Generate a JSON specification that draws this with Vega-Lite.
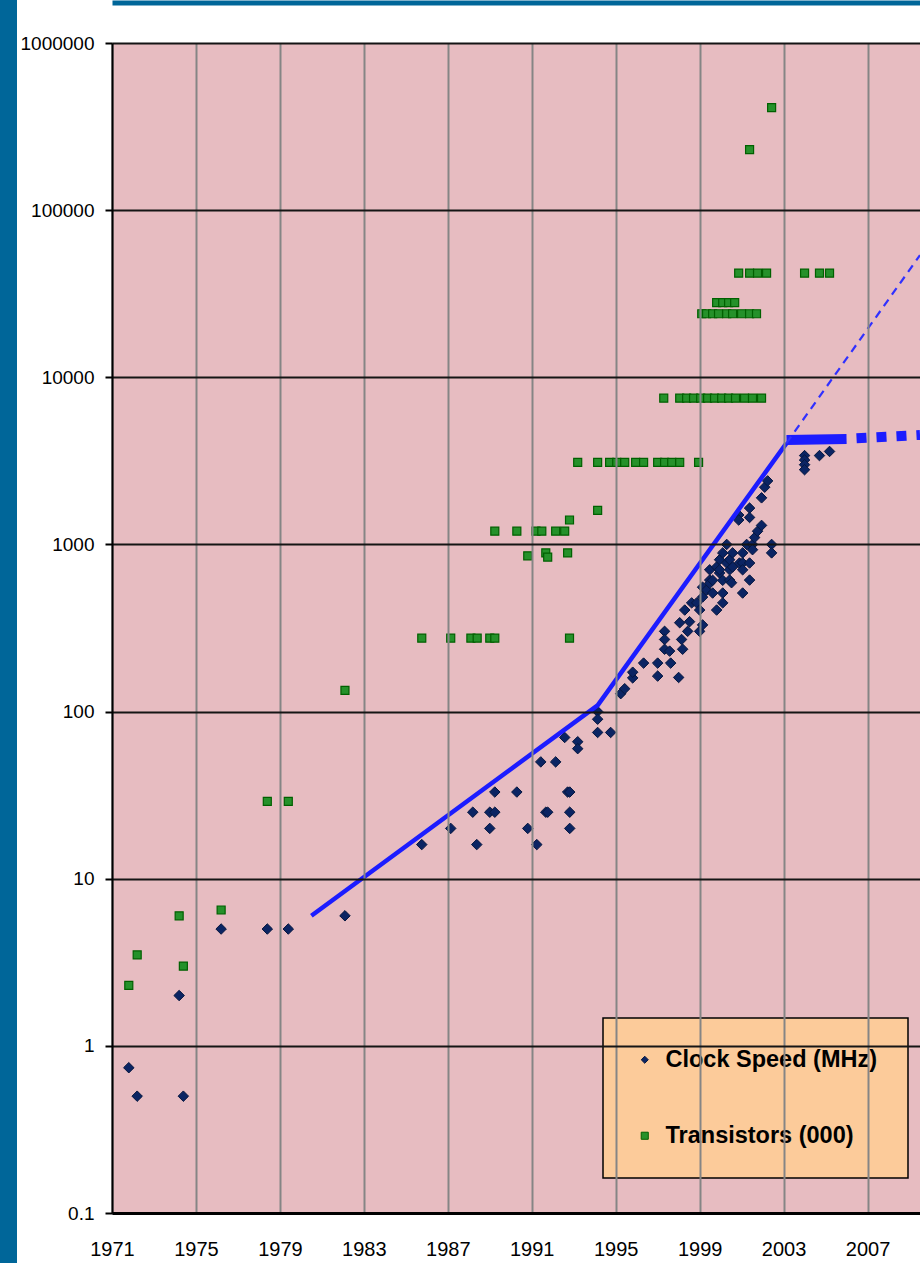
{
  "$schema": "https://vega.github.io/schema/vega-lite/v6.json",
  "width": 808,
  "height": 1170,
  "autosize": "none",
  "padding": {"left": 112, "top": 43, "right": 0, "bottom": 50},
  "background": "#006699",
  "config": {
    "view": {"fill": "#e7bcc1", "stroke": "#ffffff", "strokeWidth": 190},
    "legend": {"strokeWidth": 1.5}
  },
  "datasets": {
    "points": [
      {"series":"Clock Speed (MHz)","year":1971.8,"value":0.74},{"series":"Clock Speed (MHz)","year":1972.2,"value":0.5},{"series":"Clock Speed (MHz)","year":1974.2,"value":2},{"series":"Clock Speed (MHz)","year":1974.4,"value":0.5},{"series":"Clock Speed (MHz)","year":1976.2,"value":5},{"series":"Clock Speed (MHz)","year":1978.4,"value":5},{"series":"Clock Speed (MHz)","year":1979.4,"value":5},{"series":"Clock Speed (MHz)","year":1982.1,"value":6},
      {"series":"Clock Speed (MHz)","year":1985.76,"value":16},{"series":"Clock Speed (MHz)","year":1987.14,"value":20},{"series":"Clock Speed (MHz)","year":1988.19,"value":25},{"series":"Clock Speed (MHz)","year":1988.38,"value":16},{"series":"Clock Speed (MHz)","year":1989.0,"value":20},{"series":"Clock Speed (MHz)","year":1989.0,"value":25},{"series":"Clock Speed (MHz)","year":1989.24,"value":25},{"series":"Clock Speed (MHz)","year":1989.24,"value":33},{"series":"Clock Speed (MHz)","year":1990.29,"value":33},{"series":"Clock Speed (MHz)","year":1990.81,"value":20},{"series":"Clock Speed (MHz)","year":1991.24,"value":16},{"series":"Clock Speed (MHz)","year":1991.43,"value":50},{"series":"Clock Speed (MHz)","year":1991.67,"value":25},{"series":"Clock Speed (MHz)","year":1991.76,"value":25},{"series":"Clock Speed (MHz)","year":1992.14,"value":50},{"series":"Clock Speed (MHz)","year":1992.57,"value":70},{"series":"Clock Speed (MHz)","year":1992.71,"value":33},{"series":"Clock Speed (MHz)","year":1992.81,"value":33},{"series":"Clock Speed (MHz)","year":1992.81,"value":25},{"series":"Clock Speed (MHz)","year":1992.81,"value":20},{"series":"Clock Speed (MHz)","year":1993.19,"value":66},{"series":"Clock Speed (MHz)","year":1993.19,"value":60},
      {"series":"Clock Speed (MHz)","year":1994.14,"value":100},{"series":"Clock Speed (MHz)","year":1994.14,"value":90},{"series":"Clock Speed (MHz)","year":1994.14,"value":75},{"series":"Clock Speed (MHz)","year":1994.76,"value":75},{"series":"Clock Speed (MHz)","year":1995.24,"value":128},{"series":"Clock Speed (MHz)","year":1995.43,"value":137},{"series":"Clock Speed (MHz)","year":1995.81,"value":159},{"series":"Clock Speed (MHz)","year":1995.81,"value":172},{"series":"Clock Speed (MHz)","year":1996.33,"value":195},{"series":"Clock Speed (MHz)","year":1997.0,"value":195},{"series":"Clock Speed (MHz)","year":1997.0,"value":163},{"series":"Clock Speed (MHz)","year":1997.33,"value":302},{"series":"Clock Speed (MHz)","year":1997.33,"value":270},{"series":"Clock Speed (MHz)","year":1997.33,"value":236},{"series":"Clock Speed (MHz)","year":1997.57,"value":230},{"series":"Clock Speed (MHz)","year":1997.62,"value":195},{"series":"Clock Speed (MHz)","year":1998.0,"value":160},{"series":"Clock Speed (MHz)","year":1998.05,"value":340},{"series":"Clock Speed (MHz)","year":1998.14,"value":270},{"series":"Clock Speed (MHz)","year":1998.19,"value":236},{"series":"Clock Speed (MHz)","year":1998.29,"value":405},{"series":"Clock Speed (MHz)","year":1998.43,"value":302},{"series":"Clock Speed (MHz)","year":1998.52,"value":345},{"series":"Clock Speed (MHz)","year":1998.62,"value":447},{"series":"Clock Speed (MHz)","year":1998.86,"value":447},{"series":"Clock Speed (MHz)","year":1999.0,"value":405},{"series":"Clock Speed (MHz)","year":1999.0,"value":302},{"series":"Clock Speed (MHz)","year":1999.14,"value":330},{"series":"Clock Speed (MHz)","year":1999.14,"value":484},{"series":"Clock Speed (MHz)","year":1999.14,"value":555},{"series":"Clock Speed (MHz)","year":1999.33,"value":533},{"series":"Clock Speed (MHz)","year":1999.48,"value":612},{"series":"Clock Speed (MHz)","year":1999.48,"value":585},{"series":"Clock Speed (MHz)","year":1999.48,"value":705},{"series":"Clock Speed (MHz)","year":1999.62,"value":512},{"series":"Clock Speed (MHz)","year":1999.62,"value":610},{"series":"Clock Speed (MHz)","year":1999.81,"value":405},{"series":"Clock Speed (MHz)","year":1999.81,"value":733},{"series":"Clock Speed (MHz)","year":1999.95,"value":675},{"series":"Clock Speed (MHz)","year":1999.95,"value":810},{"series":"Clock Speed (MHz)","year":1999.95,"value":705},{"series":"Clock Speed (MHz)","year":2000.1,"value":512},{"series":"Clock Speed (MHz)","year":2000.1,"value":447},{"series":"Clock Speed (MHz)","year":2000.1,"value":890},{"series":"Clock Speed (MHz)","year":2000.1,"value":610},{"series":"Clock Speed (MHz)","year":2000.29,"value":774},{"series":"Clock Speed (MHz)","year":2000.29,"value":1000},{"series":"Clock Speed (MHz)","year":2000.43,"value":612},{"series":"Clock Speed (MHz)","year":2000.43,"value":810},{"series":"Clock Speed (MHz)","year":2000.43,"value":705},{"series":"Clock Speed (MHz)","year":2000.52,"value":590},{"series":"Clock Speed (MHz)","year":2000.57,"value":733},{"series":"Clock Speed (MHz)","year":2000.57,"value":890},{"series":"Clock Speed (MHz)","year":2000.9,"value":774},{"series":"Clock Speed (MHz)","year":2001.05,"value":512},{"series":"Clock Speed (MHz)","year":2001.05,"value":890},{"series":"Clock Speed (MHz)","year":2001.05,"value":775},{"series":"Clock Speed (MHz)","year":2001.05,"value":705},{"series":"Clock Speed (MHz)","year":2001.24,"value":1000},{"series":"Clock Speed (MHz)","year":2001.38,"value":612},{"series":"Clock Speed (MHz)","year":2001.38,"value":774},{"series":"Clock Speed (MHz)","year":2001.52,"value":1000},{"series":"Clock Speed (MHz)","year":2001.52,"value":930},{"series":"Clock Speed (MHz)","year":2000.86,"value":1500},{"series":"Clock Speed (MHz)","year":2000.86,"value":1400},{"series":"Clock Speed (MHz)","year":2001.38,"value":1650},{"series":"Clock Speed (MHz)","year":2001.38,"value":1450},{"series":"Clock Speed (MHz)","year":2001.62,"value":1100},{"series":"Clock Speed (MHz)","year":2001.76,"value":1200},{"series":"Clock Speed (MHz)","year":2001.95,"value":1300},{"series":"Clock Speed (MHz)","year":2001.95,"value":1900},{"series":"Clock Speed (MHz)","year":2002.1,"value":2200},{"series":"Clock Speed (MHz)","year":2002.24,"value":2400},{"series":"Clock Speed (MHz)","year":2002.43,"value":1000},{"series":"Clock Speed (MHz)","year":2002.43,"value":890},{"series":"Clock Speed (MHz)","year":2004.0,"value":3400},{"series":"Clock Speed (MHz)","year":2004.0,"value":3200},{"series":"Clock Speed (MHz)","year":2004.0,"value":3000},{"series":"Clock Speed (MHz)","year":2004.0,"value":2800},{"series":"Clock Speed (MHz)","year":2004.71,"value":3400},{"series":"Clock Speed (MHz)","year":2005.19,"value":3600},
      {"series":"Transistors (000)","year":1971.8,"value":2.3},{"series":"Transistors (000)","year":1972.2,"value":3.5},{"series":"Transistors (000)","year":1974.2,"value":6},{"series":"Transistors (000)","year":1974.4,"value":3},{"series":"Transistors (000)","year":1976.2,"value":6.5},{"series":"Transistors (000)","year":1978.4,"value":29},{"series":"Transistors (000)","year":1979.4,"value":29},{"series":"Transistors (000)","year":1982.1,"value":134},
      {"series":"Transistors (000)","year":1985.76,"value":275},{"series":"Transistors (000)","year":1987.14,"value":275},{"series":"Transistors (000)","year":1988.1,"value":275},{"series":"Transistors (000)","year":1988.4,"value":275},{"series":"Transistors (000)","year":1989.0,"value":275},{"series":"Transistors (000)","year":1989.24,"value":275},{"series":"Transistors (000)","year":1992.8,"value":275},
      {"series":"Transistors (000)","year":1989.24,"value":1200},{"series":"Transistors (000)","year":1990.29,"value":1200},{"series":"Transistors (000)","year":1991.2,"value":1200},{"series":"Transistors (000)","year":1991.48,"value":1200},{"series":"Transistors (000)","year":1992.14,"value":1200},{"series":"Transistors (000)","year":1992.57,"value":1200},{"series":"Transistors (000)","year":1992.8,"value":1400},{"series":"Transistors (000)","year":1994.14,"value":1600},
      {"series":"Transistors (000)","year":1990.81,"value":855},{"series":"Transistors (000)","year":1991.67,"value":890},{"series":"Transistors (000)","year":1991.76,"value":840},{"series":"Transistors (000)","year":1992.71,"value":890},
      {"series":"Transistors (000)","year":1993.19,"value":3100},{"series":"Transistors (000)","year":1994.14,"value":3100},{"series":"Transistors (000)","year":1994.71,"value":3100},{"series":"Transistors (000)","year":1995.05,"value":3100},{"series":"Transistors (000)","year":1995.43,"value":3100},{"series":"Transistors (000)","year":1995.95,"value":3100},{"series":"Transistors (000)","year":1996.33,"value":3100},{"series":"Transistors (000)","year":1997.0,"value":3100},{"series":"Transistors (000)","year":1997.33,"value":3100},{"series":"Transistors (000)","year":1997.67,"value":3100},{"series":"Transistors (000)","year":1998.05,"value":3100},{"series":"Transistors (000)","year":1998.95,"value":3100},
      {"series":"Transistors (000)","year":1997.29,"value":7500},{"series":"Transistors (000)","year":1998.05,"value":7500},{"series":"Transistors (000)","year":1998.38,"value":7500},{"series":"Transistors (000)","year":1998.71,"value":7500},{"series":"Transistors (000)","year":1999.05,"value":7500},{"series":"Transistors (000)","year":1999.38,"value":7500},{"series":"Transistors (000)","year":1999.71,"value":7500},{"series":"Transistors (000)","year":2000.05,"value":7500},{"series":"Transistors (000)","year":2000.38,"value":7500},{"series":"Transistors (000)","year":2000.71,"value":7500},{"series":"Transistors (000)","year":2001.14,"value":7500},{"series":"Transistors (000)","year":2001.52,"value":7500},{"series":"Transistors (000)","year":2001.95,"value":7500},
      {"series":"Transistors (000)","year":1999.1,"value":24000},{"series":"Transistors (000)","year":1999.33,"value":24000},{"series":"Transistors (000)","year":1999.62,"value":24000},{"series":"Transistors (000)","year":1999.9,"value":24000},{"series":"Transistors (000)","year":2000.29,"value":24000},{"series":"Transistors (000)","year":2000.57,"value":24000},{"series":"Transistors (000)","year":2001.0,"value":24000},{"series":"Transistors (000)","year":2001.38,"value":24000},{"series":"Transistors (000)","year":2001.71,"value":24000},
      {"series":"Transistors (000)","year":1999.81,"value":28000},{"series":"Transistors (000)","year":2000.1,"value":28000},{"series":"Transistors (000)","year":2000.38,"value":28000},{"series":"Transistors (000)","year":2000.67,"value":28000},
      {"series":"Transistors (000)","year":2000.86,"value":42000},{"series":"Transistors (000)","year":2001.38,"value":42000},{"series":"Transistors (000)","year":2001.76,"value":42000},{"series":"Transistors (000)","year":2002.19,"value":42000},{"series":"Transistors (000)","year":2004.0,"value":42000},{"series":"Transistors (000)","year":2004.71,"value":42000},{"series":"Transistors (000)","year":2005.19,"value":42000},
      {"series":"Transistors (000)","year":2001.38,"value":230000},{"series":"Transistors (000)","year":2002.43,"value":410000}
    ],
    "trend": [{"year":1980.5,"value":6},{"year":1994.14,"value":109},{"year":2003.14,"value":4040}],
    "flat": [{"year":2003.14,"value":4220},{"year":2006.0,"value":4280}],
    "flatdash": [{"year":2006.0,"value":4280},{"year":2009.5,"value":4520}],
    "proj": [{"year":2003.14,"value":4040},{"year":2009.5,"value":53800}]
  },
  "layer": [
    {
      "data": {"values": [{}]},
      "mark": {"type": "rect", "fill": "#e7bcc1"},
      "encoding": {}
    },
    {
      "data": {"name": "points"},
      "transform": [{"filter": "datum.series === 'Clock Speed (MHz)'"}],
      "mark": {"type": "point", "filled": true, "size": 110, "strokeWidth": 1, "opacity": 1},
      "encoding": {
        "x": {"field": "year", "type": "quantitative", "scale": {"domain": [1971, 2009.5], "nice": false, "zero": false},
          "axis": {"orient": "bottom", "values": [1971,1975,1979,1983,1987,1991,1995,1999,2003,2007], "format": "d", "title": null,
            "grid": true, "gridColor": "#858585", "gridWidth": 2, "gridOpacity": 1, "domainColor": "#000000", "domainWidth": 3,
            "tickSize": 0, "labelPadding": 26, "labelFlush": false, "labelOverlap": false, "labelFont": "Liberation Sans", "labelFontSize": 20, "labelColor": "#000000", "zindex": 1}},
        "y": {"field": "value", "type": "quantitative", "scale": {"type": "log", "domain": [0.1, 1000000], "nice": false},
          "axis": {"values": [0.1,1,10,100,1000,10000,100000,1000000], "labelExpr": "datum.value < 1 ? '0.1' : format(datum.value, 'd')", "title": null,
            "grid": true, "gridColor": "#151515", "gridWidth": 2, "gridOpacity": 1, "domainColor": "#000000", "domainWidth": 2,
            "tickSize": 7, "tickWidth": 2, "tickColor": "#000000", "labelPadding": 11, "labelFlush": false, "labelOverlap": false, "labelFont": "Liberation Sans", "labelFontSize": 19, "labelColor": "#000000", "zindex": 1}},
        "fill": {"field": "series", "type": "nominal",
          "scale": {"domain": ["Clock Speed (MHz)", "Transistors (000)"], "range": ["#0b2463", "#25912a"]},
          "legend": {"title": null, "orient": "none", "legendX": 491, "legendY": 975, "fillColor": "#fccb9a", "strokeColor": "#000000",
            "padding": 30, "rowPadding": 51, "symbolOffset": 0, "labelOffset": 9, "symbolSize": 50, "symbolStrokeWidth": 1,
            "labelFont": "Liberation Sans", "labelFontSize": 23.5, "labelFontWeight": "bold", "labelColor": "#000000", "labelLimit": 260}},
        "stroke": {"field": "series", "type": "nominal",
          "scale": {"domain": ["Clock Speed (MHz)", "Transistors (000)"], "range": ["#06173f", "#006000"]}},
        "shape": {"field": "series", "type": "nominal",
          "scale": {"domain": ["Clock Speed (MHz)", "Transistors (000)"], "range": ["diamond", "square"]}}
      }
    },
    {
      "data": {"name": "points"},
      "transform": [{"filter": "datum.series === 'Transistors (000)'"}],
      "mark": {"type": "point", "filled": true, "size": 64, "strokeWidth": 1.2, "opacity": 1},
      "encoding": {
        "x": {"field": "year", "type": "quantitative", "scale": {"domain": [1971, 2009.5], "nice": false, "zero": false}, "axis": null},
        "y": {"field": "value", "type": "quantitative", "scale": {"type": "log", "domain": [0.1, 1000000], "nice": false}, "axis": null},
        "fill": {"field": "series", "type": "nominal"},
        "stroke": {"field": "series", "type": "nominal"},
        "shape": {"field": "series", "type": "nominal"}
      }
    },
    {
      "data": {"name": "trend"},
      "mark": {"type": "line", "color": "#1c1cff", "strokeWidth": 4.5},
      "encoding": {
        "x": {"field": "year", "type": "quantitative", "scale": {"domain": [1971, 2009.5], "nice": false, "zero": false}, "axis": null},
        "y": {"field": "value", "type": "quantitative", "scale": {"type": "log", "domain": [0.1, 1000000], "nice": false}, "axis": null}
      }
    },
    {
      "data": {"name": "flat"},
      "mark": {"type": "line", "color": "#1c1cff", "strokeWidth": 10},
      "encoding": {
        "x": {"field": "year", "type": "quantitative", "scale": {"domain": [1971, 2009.5], "nice": false, "zero": false}, "axis": null},
        "y": {"field": "value", "type": "quantitative", "scale": {"type": "log", "domain": [0.1, 1000000], "nice": false}, "axis": null}
      }
    },
    {
      "data": {"name": "flatdash"},
      "mark": {"type": "line", "color": "#1c1cff", "strokeWidth": 10, "strokeDash": [10, 10], "strokeDashOffset": 10},
      "encoding": {
        "x": {"field": "year", "type": "quantitative", "scale": {"domain": [1971, 2009.5], "nice": false, "zero": false}, "axis": null},
        "y": {"field": "value", "type": "quantitative", "scale": {"type": "log", "domain": [0.1, 1000000], "nice": false}, "axis": null}
      }
    },
    {
      "data": {"name": "proj"},
      "mark": {"type": "line", "color": "#3030ff", "strokeWidth": 2.2, "strokeDash": [8, 6]},
      "encoding": {
        "x": {"field": "year", "type": "quantitative", "scale": {"domain": [1971, 2009.5], "nice": false, "zero": false},
          "axis": {"orient": "top", "offset": 40.5, "domainColor": "#006699", "domainWidth": 5, "ticks": false, "labels": false, "grid": false, "title": null, "zindex": 1}},
        "y": {"field": "value", "type": "quantitative", "scale": {"type": "log", "domain": [0.1, 1000000], "nice": false}, "axis": null}
      }
    }
  ],
  "resolve": {"axis": {"x": "independent", "y": "independent"}}
}
